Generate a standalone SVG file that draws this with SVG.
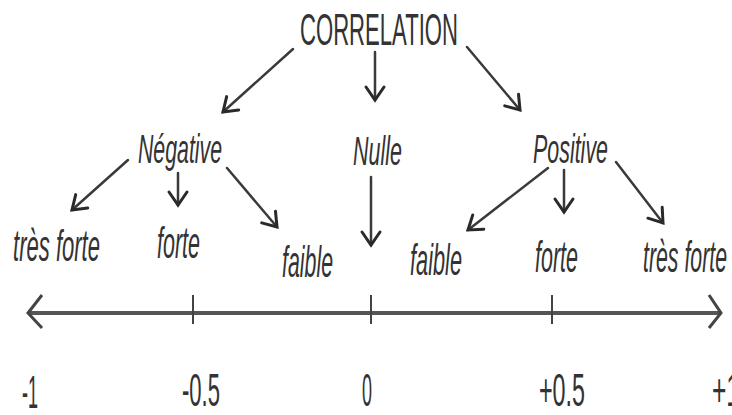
<svg xmlns="http://www.w3.org/2000/svg" width="732" height="415" viewBox="0 0 732 415">
<defs>
<style>
text{font-family:"Liberation Sans",Arial,sans-serif;fill:#333}
.t{font-size:44px}
.l1{font-size:40px;font-style:italic}
.l2{font-size:44px;font-style:italic}
.n{font-size:46px}
.c{stroke:#3a3a3a;stroke-width:2.5;fill:none;stroke-linecap:round}
.ax{stroke:#555;stroke-width:4;fill:none}
.tk{stroke:#444;stroke-width:2;fill:none}
.ch{stroke:#444;stroke-width:3;fill:none;stroke-linejoin:miter}
</style>
<marker id="ah" markerUnits="userSpaceOnUse" markerWidth="30" markerHeight="30" refX="0" refY="0" viewBox="-16 -15 18 30" orient="auto" overflow="visible">
<path d="M -13 -9 L 0 0 L -13 9" fill="none" stroke="#2a2a2a" stroke-width="3" stroke-linecap="round" stroke-linejoin="miter"/>
</marker>
</defs>
<rect width="732" height="415" fill="#fff"/>

<g id="correlation"><text class="t" x="300" y="45" textLength="158" lengthAdjust="spacingAndGlyphs">CORRELATION</text></g>
<g id="negative"><text class="l1" x="138" y="163" textLength="84" lengthAdjust="spacingAndGlyphs">Négative</text></g>
<g id="nulle"><text class="l1" x="353" y="165" textLength="49" lengthAdjust="spacingAndGlyphs">Nulle</text></g>
<g id="positive"><text class="l1" x="533" y="163" textLength="75" lengthAdjust="spacingAndGlyphs">Positive</text></g>
<g id="neg-tres-forte"><text class="l2" x="13" y="261" textLength="87" lengthAdjust="spacingAndGlyphs">très forte</text></g>
<g id="neg-forte"><text class="l2" x="157" y="258" textLength="43" lengthAdjust="spacingAndGlyphs">forte</text></g>
<g id="neg-faible"><text class="l2" x="282" y="277" textLength="51" lengthAdjust="spacingAndGlyphs">faible</text></g>
<g id="pos-faible"><text class="l2" x="410" y="275" textLength="52" lengthAdjust="spacingAndGlyphs">faible</text></g>
<g id="pos-forte"><text class="l2" x="535" y="272" textLength="43" lengthAdjust="spacingAndGlyphs">forte</text></g>
<g id="pos-tres-forte"><text class="l2" x="643" y="272" textLength="84" lengthAdjust="spacingAndGlyphs">très forte</text></g>

<g id="connectors">
<line class="c" x1="293" y1="49" x2="223" y2="112" marker-end="url(#ah)"/>
<line class="c" x1="375" y1="52" x2="375" y2="100" marker-end="url(#ah)"/>
<line class="c" x1="467" y1="47" x2="520" y2="110" marker-end="url(#ah)"/>
<line class="c" x1="128" y1="160" x2="72" y2="210" marker-end="url(#ah)"/>
<line class="c" x1="178" y1="173" x2="178" y2="205" marker-end="url(#ah)"/>
<line class="c" x1="227" y1="168" x2="277" y2="227" marker-end="url(#ah)"/>
<line class="c" x1="371" y1="177" x2="371" y2="245" marker-end="url(#ah)"/>
<line class="c" x1="548" y1="168" x2="468" y2="230" marker-end="url(#ah)"/>
<line class="c" x1="564" y1="170" x2="564" y2="212" marker-end="url(#ah)"/>
<line class="c" x1="616" y1="162" x2="663" y2="223" marker-end="url(#ah)"/>
</g>

<g id="axis">
<line class="ax" x1="28" y1="313" x2="721" y2="313"/>
<path class="ch" d="M 42 295 L 28 313 L 42 328"/>
<path class="ch" d="M 709 295 L 721 313 L 709 328"/>
<line class="tk" x1="193" y1="295" x2="193" y2="324"/>
<line class="tk" x1="371" y1="295" x2="371" y2="324"/>
<line class="tk" x1="552" y1="295" x2="552" y2="324"/>
</g>

<g id="labels">
<text class="n" x="22" y="408" textLength="16" lengthAdjust="spacingAndGlyphs">-1</text>
<text class="n" x="182" y="406" textLength="38" lengthAdjust="spacingAndGlyphs">-0.5</text>
<text class="n" x="362" y="406" textLength="10" lengthAdjust="spacingAndGlyphs">0</text>
<text class="n" x="539" y="406" textLength="46" lengthAdjust="spacingAndGlyphs">+0.5</text>
<text class="n" x="712" y="406" textLength="28" lengthAdjust="spacingAndGlyphs">+1</text>
</g>
</svg>
